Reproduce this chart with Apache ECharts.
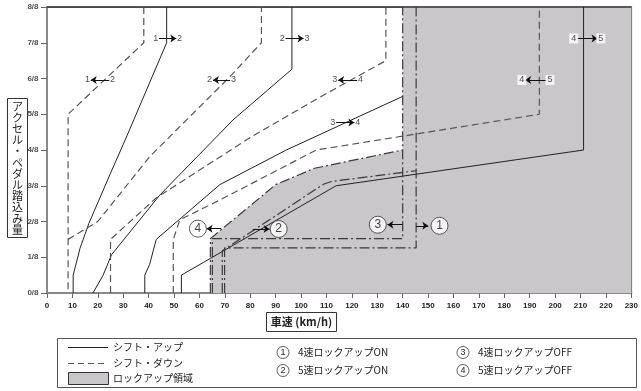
<!DOCTYPE html>
<html><head><meta charset="utf-8">
<script src="https://cdn.jsdelivr.net/npm/echarts@6/dist/echarts.min.js"></script>
<style>html,body{margin:0;padding:0;background:#fff}#c{width:641px;height:391px}</style>
</head><body><div id="c"></div>
<script>
// ---- data (km/h, accelerator opening in eighths) ----
const yTickLabels = ['0/8','1/8','2/8','3/8','4/8','5/8','6/8','7/8','8/8'];
const up12 = [[10.3,0],[10.3,0.5],[13,1.25],[16.5,1.95],[25,3.35],[31.5,4.4],[47.1,7],[47.1,8]];
const up23 = [[18.1,0],[22.1,0.5],[25.4,1.07],[44.4,2.74],[73.2,4.84],[96.4,6.26],[96.4,8]];
const up34 = [[38.5,0],[38.5,0.5],[40.4,0.8],[43,1.5],[68,3.03],[94.2,4.0],[140,5.5]];
const up45 = [[52.9,0],[52.9,0.5],[113.8,3.0],[211.2,4.0],[211.2,8]];
const dn12 = [[38.1,8],[38.1,7],[8.3,5],[8.3,0]];
const dn23 = [[8.3,1.5],[20,2.0],[40.5,3.82],[47,4.28],[72,6.05],[84.4,7],[84.4,8]];
const dn34 = [[25,0],[25,1.5],[43,2.66],[80,4.35],[106.7,5.45],[133.4,6.5],[133.4,8]];
const dn45 = [[49.7,0],[49.7,1.5],[52.3,2.05],[68,2.6],[106,4.0],[193.8,5.0],[193.8,8]];
const lu4off = [[65.1,0],[65.1,1.52],[140,1.52],[140,8]];
const lu4on  = [[69.9,0],[69.9,1.26],[145.3,1.26],[145.3,8]];
const lu5off = [[64.3,0],[64.3,1.52],[90,3.03],[105.3,3.49],[140,4.0]];
const lu5on  = [[69.0,0],[69.0,1.18],[109,3.05],[112,3.12],[145.3,3.42]];
const lockArea = [[64.3,0],[64.3,1.52],[90,3.03],[105.3,3.49],[140,4.0],[140,8],[230,8]];
// shift tags: [leftNum, rightNum, xLeft, xRight, y, dir]
const shiftTags = [
  ['1','2',42.8,52.2,7.12,'>'],
  ['1','2',15.9,25.8,5.96,'<'],
  ['2','3',92.6,102.3,7.12,'>'],
  ['2','3',64.0,73.4,5.96,'<'],
  ['3','4',113.3,123.4,5.96,'<'],
  ['3','4',112.5,122.3,4.77,'>'],
  ['4','5',207.3,218.0,7.12,'>'],
  ['4','5',186.9,198.0,5.96,'<']
];
// circled tags: [num, x, y, arrowTail, arrowHead]
const circTags = [['1',154.5,1.88,145.3,150.1],['2',91.2,1.79,81.0,87.6],['3',130.2,1.91,140,134],['4',59.4,1.80,68.6,62.8]];
const yTitle = 'アクセル・ペダル踏込み量';
const xTitle = '車速 (km/h)';
const legendRows = ['シフト・アップ','シフト・ダウン','ロックアップ領域'];
const legendLock = [['1','4速ロックアップON'],['2','5速ロックアップON'],['3','4速ロックアップOFF'],['4','5速ロックアップOFF']];

const chart = echarts.init(document.getElementById('c'));
const F = 'Liberation Sans, Arial, sans-serif';
const J = '"Noto Sans CJK JP", sans-serif';
const solid = {color:'#222', width:1};
const dashed = {color:'#555', width:1.2, type:[7,4]};
const dashdot = {color:'#3a3a3a', width:1.2, type:[10,3,2,3]};
function ln(data, style, z){ return {type:'line', data, symbol:'none', lineStyle:style, z:z||3, silent:true, animation:false}; }

const tagNums = [];
const tagArrows = [];
shiftTags.forEach(t=>{
  const onGray = t[2] > 140;
  const lab = (s)=>({formatter:s, backgroundColor: onGray?'#fff':null, padding: onGray?[1,2,0,2]:0});
  tagNums.push({value:[t[2],t[4]], label:lab(t[0])});
  tagNums.push({value:[t[3],t[4]], label:lab(t[1])});
  const a = t[2]+1.3, b = t[3]-1.3;
  tagArrows.push({coords: t[5]==='>' ? [[a,t[4]],[b,t[4]]] : [[b,t[4]],[a,t[4]]]});
});
circTags.forEach(c=>{ tagArrows.push({coords:[[c[3],c[2]],[c[4],c[2]]]}); });

const legendGraphics = [];
legendLock.forEach((l,i)=>{
  const cx = i<2 ? 283 : 463, cy = (i%2===0) ? 352.5 : 370.5;
  legendGraphics.push({type:'circle', shape:{cx, cy, r:6}, style:{fill:'#fff', stroke:'#333', lineWidth:0.8}});
  legendGraphics.push({type:'text', x:cx, y:cy+0.5, style:{text:l[0], font:'9px '+F, fill:'#222', textAlign:'center', textVerticalAlign:'middle'}});
  legendGraphics.push({type:'text', x:cx+15, y:cy, style:{text:l[1], font:'10px '+J, fill:'#222', textVerticalAlign:'middle'}});
});

const option = {
  animation:false,
  grid:{left:47, right:9, top:7, bottom:98, show:true, borderColor:'#666', borderWidth:1.5},
  xAxis:{type:'value', min:0, max:230, interval:10,
    axisLine:{show:true, lineStyle:{color:'#888', width:2}},
    axisTick:{show:true, length:5, lineStyle:{color:'#666'}},
    axisLabel:{fontSize:8, fontWeight:'bold', fontFamily:F, color:'#222', margin:9},
    splitLine:{show:false}},
  yAxis:{type:'value', min:0, max:8, interval:1,
    axisLine:{show:true, lineStyle:{color:'#888', width:2}},
    axisTick:{show:true, length:6, lineStyle:{color:'#666'}},
    axisLabel:{show:false},
    splitLine:{show:false}},
  series:[
    {type:'line', data:lockArea, symbol:'none', lineStyle:{width:0}, areaStyle:{color:'#c9c7ca', opacity:1}, z:1, silent:true},
    ln([[0,8],[230,8]], {color:'#333', width:1.5}, 2),
    ln(up12, solid), ln(up23, solid), ln(up34, solid), ln(up45, solid),
    ln(dn12, dashed), ln(dn23, dashed), ln(dn34, dashed), ln(dn45, dashed),
    ln(lu4off, dashdot), ln(lu4on, dashdot), ln(lu5off, dashdot), ln(lu5on, dashdot),
    {type:'lines', coordinateSystem:'cartesian2d', data:tagArrows, symbol:['none','arrow'], symbolSize:[0,6],
     lineStyle:{color:'#111', width:1, opacity:1}, z:5, silent:true},
    {type:'scatter', data:tagNums, symbol:'circle', symbolSize:2, itemStyle:{color:'rgba(0,0,0,0)'}, z:6, silent:true,
     labelLayout:{hideOverlap:false},
     label:{show:true, position:'inside', fontSize:9, fontFamily:F, color:'#222'}},
    {type:'scatter', data:circTags.map(c=>({value:[c[1],c[2]], label:{formatter:c[0]}})), symbol:'circle', symbolSize:17,
     itemStyle:{color:'#fff', borderColor:'#333', borderWidth:1}, z:6, silent:true,
     label:{show:true, position:'inside', fontSize:12, fontFamily:F, color:'#111'}},
    // y-axis tick labels
    {type:'scatter', clip:false, data:yTickLabels.map((s,i)=>({value:[0,i], label:{formatter:s}})), symbol:'circle', symbolSize:1,
     itemStyle:{color:'rgba(0,0,0,0)'}, z:6, silent:true, labelLayout:{hideOverlap:false},
     label:{show:true, position:'left', distance:8, fontSize:8, fontWeight:'bold', fontFamily:F, color:'#222'}}
  ],
  graphic:[
    {type:'rect', shape:{x:7.5,y:98.5,width:20,height:139}, style:{fill:'#fff', stroke:'#333', lineWidth:1}},
    {type:'text', x:17.5, y:168, style:{text:yTitle.split('').join('\n'), font:'11px '+J, fill:'#222', textAlign:'center', textVerticalAlign:'middle', lineHeight:11.2}},
    {type:'rect', shape:{x:266.5,y:312.5,width:70,height:19}, style:{fill:'#fff', stroke:'#333', lineWidth:1}},
    {type:'text', x:301.5, y:322, style:{text:xTitle, font:'bold 11px '+J, fill:'#222', textAlign:'center', textVerticalAlign:'middle'}},
    {type:'rect', shape:{x:57.5,y:338.5,width:579,height:49}, style:{fill:'#fff', stroke:'#555', lineWidth:1}},
    {type:'line', shape:{x1:68,y1:347.5,x2:108,y2:347.5}, style:{stroke:'#222', lineWidth:1}},
    {type:'line', shape:{x1:68,y1:363.5,x2:108,y2:363.5}, style:{stroke:'#555', lineWidth:1.2, lineDash:[6,4]}},
    {type:'rect', shape:{x:68.5,y:372.5,width:40,height:12}, style:{fill:'#c9c7ca', stroke:'#333', lineWidth:1}},
    {type:'text', x:113, y:347.5, style:{text:legendRows[0], font:'10px '+J, fill:'#222', textVerticalAlign:'middle'}},
    {type:'text', x:113, y:363.5, style:{text:legendRows[1], font:'10px '+J, fill:'#222', textVerticalAlign:'middle'}},
    {type:'text', x:113, y:378.5, style:{text:legendRows[2], font:'10px '+J, fill:'#222', textVerticalAlign:'middle'}},
    ...legendGraphics
  ]
};
chart.setOption(option);
</script></body></html>
